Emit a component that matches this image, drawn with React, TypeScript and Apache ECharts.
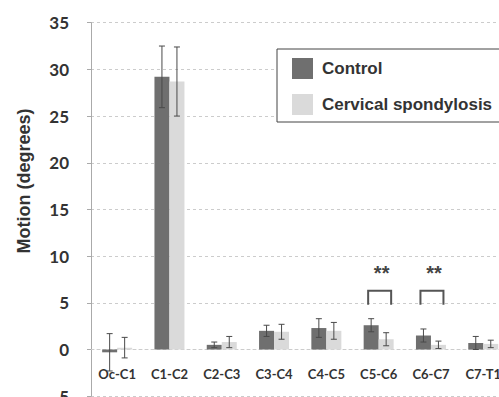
import React, { useEffect, useRef } from "react";
import * as echarts from "echarts";

const categories = ["Oc-C1", "C1-C2", "C2-C3", "C3-C4", "C4-C5", "C5-C6", "C6-C7", "C7-T1"];
const controlMean = [-0.3, 29.2, 0.5, 2.0, 2.3, 2.6, 1.5, 0.7];
const controlSD = [2.0, 3.3, 0.3, 0.6, 1.0, 0.7, 0.7, 0.7];
const csMean = [0.2, 28.7, 0.8, 1.9, 2.0, 1.1, 0.5, 0.6];
const csSD = [1.1, 3.7, 0.6, 0.8, 0.9, 0.7, 0.4, 0.4];
// significance brackets: [category index, leg bottom, bracket top, star level]
const sigBrackets = [
  [5, 4.8, 6.3, 8.6],
  [6, 4.8, 6.3, 8.6],
];
const sigLabel = "**";
const yTicks = { min: -5, max: 35, interval: 5 };

const BAR_W = 15;
const GRID_TOP = 22.7;
const GRID_BOTTOM = 0.8;
const H = 397;

export default function App() {
  const ref = useRef<HTMLDivElement>(null);
  useEffect(() => {
    if (!ref.current) return;
    const chart = echarts.init(ref.current, null, { renderer: "svg" });

    // distance from the bottom of the grid (min) up to the zero line
    const plotH = H - GRID_TOP - GRID_BOTTOM;
    const zeroOffset = (plotH * (0 - yTicks.min)) / (yTicks.max - yTicks.min);

    const errRender = (offset: number) => (params: any, api: any) => {
      const idx = api.value(0);
      const m = api.value(1);
      const sd = api.value(2);
      const x = api.coord([idx, 0])[0] + offset;
      const yT = api.coord([idx, m + sd])[1];
      const yB = api.coord([idx, m - sd])[1];
      const style = { stroke: "#4a4a4a", lineWidth: 1, fill: "none" };
      return {
        type: "group",
        children: [
          { type: "line", shape: { x1: x, y1: yT, x2: x, y2: yB }, style },
          { type: "line", shape: { x1: x - 3, y1: yT, x2: x + 3, y2: yT }, style },
          { type: "line", shape: { x1: x - 3, y1: yB, x2: x + 3, y2: yB }, style },
        ],
      };
    };

    chart.setOption({
      animation: false,
      grid: {
        left: 91,
        top: GRID_TOP,
        right: -10.4,
        bottom: GRID_BOTTOM,
        containLabel: false,
        outerBoundsMode: "none",
      },
      legend: {
        data: ["Control", "Cervical spondylosis"],
        orient: "vertical",
        left: 277,
        top: 49,
        padding: [9, 30, 7, 15],
        itemWidth: 21,
        itemHeight: 21,
        itemGap: 15,
        icon: "rect",
        borderColor: "#444",
        borderWidth: 1,
        backgroundColor: "#fff",
        textStyle: {
          fontFamily: "Liberation Sans",
          fontWeight: "bold",
          fontSize: 17,
          color: "#333",
          padding: [2, 0, 0, 4],
        },
      },
      xAxis: {
        type: "category",
        data: categories,
        offset: -zeroOffset,
        axisLine: { show: true, onZero: false, lineStyle: { color: "#ccc", type: [3, 3] } },
        axisTick: { show: false },
        axisLabel: {
          fontFamily: "Lato",
          fontWeight: "bold",
          fontSize: 13,
          color: "#333",
          margin: 18,
          interval: 0,
        },
      },
      yAxis: {
        type: "value",
        min: yTicks.min,
        max: yTicks.max,
        interval: yTicks.interval,
        axisLine: { show: true, lineStyle: { color: "#aaa", width: 1 } },
        axisTick: { show: true, length: 4, lineStyle: { color: "#aaa" } },
        splitLine: { show: true, lineStyle: { color: "#ccc", type: [3, 3] } },
        axisLabel: {
          fontFamily: "Lato",
          fontWeight: "bold",
          fontSize: 17,
          color: "#333",
          margin: 22,
          padding: [5, 0, 0, 0],
        },
      },
      graphic: [
        {
          type: "text",
          x: 24,
          y: 181,
          rotation: Math.PI / 2,
          style: {
            text: "Motion (degrees)",
            fontFamily: "Liberation Sans",
            fontWeight: "bold",
            fontSize: 18,
            fill: "#333",
            align: "center",
            verticalAlign: "middle",
          },
        },
      ],
      series: [
        {
          name: "Control",
          type: "bar",
          data: controlMean,
          barWidth: BAR_W,
          barGap: "0%",
          itemStyle: { color: "#6f6f6f" },
        },
        {
          name: "Cervical spondylosis",
          type: "bar",
          data: csMean,
          barWidth: BAR_W,
          barGap: "0%",
          itemStyle: { color: "#dadada" },
        },
        {
          name: "errControl",
          type: "custom",
          z: 5,
          renderItem: errRender(-BAR_W / 2),
          data: controlMean.map((m, i) => [i, m, controlSD[i]]),
        },
        {
          name: "errCS",
          type: "custom",
          z: 5,
          renderItem: errRender(BAR_W / 2),
          data: csMean.map((m, i) => [i, m, csSD[i]]),
        },
        {
          name: "sig",
          type: "custom",
          z: 6,
          renderItem: (params: any, api: any) => {
            const idx = api.value(0);
            const cx = api.coord([idx, 0])[0] + 1;
            const yB = api.coord([idx, api.value(1)])[1];
            const yT = api.coord([idx, api.value(2)])[1];
            const yS = api.coord([idx, api.value(3)])[1];
            return {
              type: "group",
              children: [
                {
                  type: "polyline",
                  shape: {
                    points: [
                      [cx - 11.5, yB],
                      [cx - 11.5, yT],
                      [cx + 11.5, yT],
                      [cx + 11.5, yB],
                    ],
                  },
                  style: { stroke: "#555", lineWidth: 2, fill: "none" },
                },
                {
                  type: "text",
                  x: cx + 2,
                  y: yS + 4,
                  style: {
                    text: sigLabel,
                    fontFamily: "Liberation Sans",
                    fontWeight: "bold",
                    fontSize: 20,
                    fill: "#444",
                    align: "center",
                    verticalAlign: "middle",
                  },
                },
              ],
            };
          },
          data: sigBrackets,
        },
      ],
    });
    return () => chart.dispose();
  }, []);
  return (
    <div
      ref={ref}
      style={{ position: "fixed", left: 0, top: 0, width: 499, height: 397, background: "#fff" }}
    />
  );
}
